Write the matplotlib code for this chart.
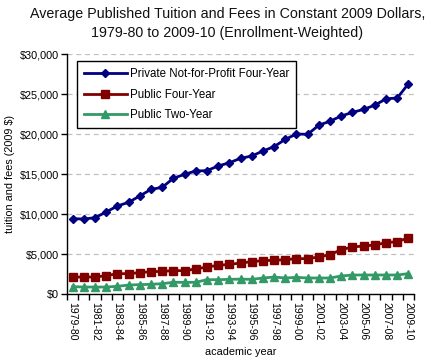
import matplotlib
matplotlib.use("Agg")
import matplotlib.pyplot as plt
from matplotlib.ticker import FuncFormatter, FixedLocator
import numpy as np

years = [f"{y}-{str(y+1)[-2:]}" for y in range(1979, 2010)]

private4 = [9420, 9370, 9540, 10250, 11000, 11460, 12250, 13080, 13330, 14460,
            14960, 15375, 15420, 16000, 16400, 16960, 17250, 17875, 18420, 19330,
            20000, 19960, 21100, 21600, 22250, 22700, 23080, 23600, 24400, 24500,
            26273]
public4 = [2120, 2120, 2120, 2290, 2540, 2540, 2670, 2790, 2830, 2920,
           2920, 3125, 3375, 3580, 3700, 3870, 4040, 4170, 4210, 4290,
           4420, 4420, 4625, 4920, 5540, 5875, 6000, 6125, 6420, 6540,
           7020]
public2 = [920, 870, 870, 870, 960, 1120, 1170, 1210, 1290, 1460,
           1460, 1460, 1790, 1790, 1830, 1860, 1830, 2000, 2120, 2000,
           2080, 2000, 2000, 2000, 2250, 2375, 2375, 2375, 2375, 2375,
           2544]

series_names = ["Private Not-for-Profit Four-Year", "Public Four-Year", "Public Two-Year"]

plt.rcParams['font.family'] = ['Liberation Sans', 'DejaVu Sans']

fig = plt.figure(figsize=(4.33, 3.63), dpi=100)
ax = fig.add_axes([67/433, 1-294/363, (414-67)/433, 240/363])

x = np.arange(len(years))
ax.plot(x, private4, color='#000080', marker='D', markersize=4.5, lw=2, label=series_names[0])
ax.plot(x, public4, color='#800000', marker='s', markersize=5.5, lw=2, label=series_names[1])
ax.plot(x, public2, color='#339966', marker='^', markersize=5.5, lw=2, label=series_names[2])

ax.set_xlim(-0.5, len(years)-0.5)
ax.set_ylim(0, 30000)
ax.set_yticks(np.arange(0, 30001, 5000))
ax.yaxis.set_major_formatter(FuncFormatter(lambda v, p: f"${int(v):,}"))
ax.yaxis.grid(True, color='#c0c0c0', linestyle=(0, (4, 3)), lw=0.9)
ax.set_axisbelow(True)

ax.set_xticks(x[::2])
ax.set_xticklabels(years[::2], rotation=270, fontsize=7.5)
ax.tick_params(axis='x', which='major', length=0, pad=6)
ax.xaxis.set_minor_locator(FixedLocator(np.arange(-0.5, len(years), 1)))
ax.tick_params(axis='x', which='minor', length=4, width=1, color='black')
ax.tick_params(axis='y', length=4, width=1, labelsize=7.8, pad=2)

for s in ['top', 'right']:
    ax.spines[s].set_visible(False)
for s in ['left', 'bottom']:
    ax.spines[s].set_linewidth(1)
    ax.spines[s].set_color('black')

ax.set_ylabel("tuition and fees (2009 $)", fontsize=7.8, labelpad=3)
ax.set_xlabel("academic year", fontsize=7.8, labelpad=4)

fig.text(0.525, 1-7/363, "Average Published Tuition and Fees in Constant 2009 Dollars,\n1979-80 to 2009-10 (Enrollment-Weighted)",
         ha='center', va='top', fontsize=10.3, linespacing=1.45, color='#111111')

leg = ax.legend(loc='upper left', bbox_to_anchor=((77-67)/347, (294-61)/240), fontsize=8.3,
                frameon=True, fancybox=False, edgecolor='black', framealpha=1,
                borderpad=0.6, labelspacing=0.75, handlelength=3.7, handletextpad=0.3,
                borderaxespad=0)
leg.get_frame().set_linewidth(1)

fig.savefig("out.png", dpi=100)
